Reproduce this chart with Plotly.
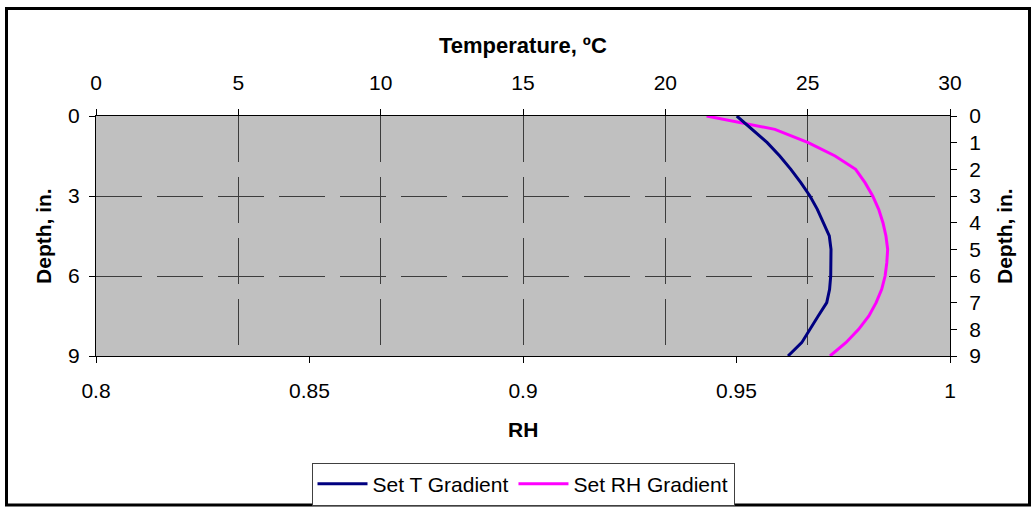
import plotly.graph_objs as go

# depth in inches, read every half inch
depth = [0, 0.5, 1, 1.5, 2, 2.5, 3, 3.5, 4, 4.5, 5, 5.5, 6, 6.5, 7, 7.5, 8, 8.5, 9]

# Set T Gradient, temperature in deg C (top axis)
temp_c = [22.51, 23.03, 23.58, 24.02, 24.41, 24.76, 25.08, 25.34, 25.55, 25.76,
          25.82, 25.82, 25.81, 25.77, 25.67, 25.37, 25.08, 24.79, 24.31]

# Set RH Gradient, relative humidity (bottom axis)
rh = [0.9430, 0.9590, 0.9668, 0.9731, 0.9779, 0.9801, 0.9819, 0.9833, 0.9843, 0.9850,
      0.9854, 0.9852, 0.9848, 0.9840, 0.9827, 0.9810, 0.9786, 0.9756, 0.9719]

temp_ticks = [0, 5, 10, 15, 20, 25, 30]
rh_ticks = [0.8, 0.85, 0.9, 0.95, 1]
rh_labels = ["0.8", "0.85", "0.9", "0.95", "1"]

FONT = "Liberation Sans, Arial, sans-serif"
FS = 21
GRID = "#3c3c3c"
DASH = "46px,15px"

fig = go.Figure()

# temperature on top axis / right depth axis, RH on bottom axis / left depth axis
fig.add_trace(go.Scatter(x=temp_c, y=depth, xaxis="x2", yaxis="y2",
                         name="Set T Gradient", mode="lines",
                         line=dict(color="#000080", width=3)))
fig.add_trace(go.Scatter(x=rh, y=depth, xaxis="x", yaxis="y",
                         name="Set RH Gradient", mode="lines",
                         line=dict(color="#FF00FF", width=3)))

axis_common = dict(showline=True, linecolor="black", linewidth=1,
                   ticks="outside", ticklen=6, tickcolor="black",
                   zeroline=False, tickfont=dict(size=FS, color="black", family=FONT))

title_common = dict(xref="paper", yref="paper", showarrow=False,
                    xanchor="center", yanchor="middle")

fig.update_layout(
    width=1033, height=508,
    margin=dict(l=96, r=83, t=116, b=152, autoexpand=False),
    paper_bgcolor="white", plot_bgcolor="#C0C0C0",
    font=dict(family=FONT, size=FS, color="black"),
    showlegend=True,
    legend=dict(orientation="h", x=0.5, xanchor="center",
                yref="container", y=1 - 484 / 508, yanchor="middle",
                bordercolor="#404040", borderwidth=1, bgcolor="white",
                font=dict(size=FS), itemwidth=50),
    xaxis=dict(range=[0.8, 1], tickvals=rh_ticks, ticktext=rh_labels,
               showgrid=False, ticklabelstandoff=10, **axis_common),
    xaxis2=dict(range=[0, 30], tickvals=temp_ticks, overlaying="x", side="top",
                showgrid=True, gridcolor=GRID, gridwidth=1, griddash=DASH,
                ticklabelstandoff=11, **axis_common),
    yaxis=dict(range=[9, 0], tickvals=[0, 3, 6, 9], showgrid=True,
               gridcolor=GRID, gridwidth=1, griddash=DASH,
               ticklabelstandoff=5, **axis_common),
    yaxis2=dict(range=[9, 0], tickvals=list(range(10)), overlaying="y", side="right",
                showgrid=False, ticklabelstandoff=8, **axis_common),
    annotations=[
        dict(text="<b>Temperature, ºC</b>", x=0.5, y=1.2917,
             font=dict(size=22), **title_common),
        dict(text="<b>RH</b>", x=0.5, y=-0.3083, **title_common),
        dict(text="<b>Depth, in.</b>", x=-0.0621, y=0.5, textangle=-90, **title_common),
        dict(text="<b>Depth, in.</b>", x=1.0632, y=0.5, textangle=-90, **title_common),
    ],
    shapes=[
        dict(type="rect", xref="paper", yref="paper",
             x0=-0.1048, x1=1.0931, y0=-0.621, y1=1.4479,
             line=dict(color="black", width=3), layer="above"),
    ],
)

fig.write_html("out.html", config={"displayModeBar": False},
               post_script="document.body.style.margin='0px';")
